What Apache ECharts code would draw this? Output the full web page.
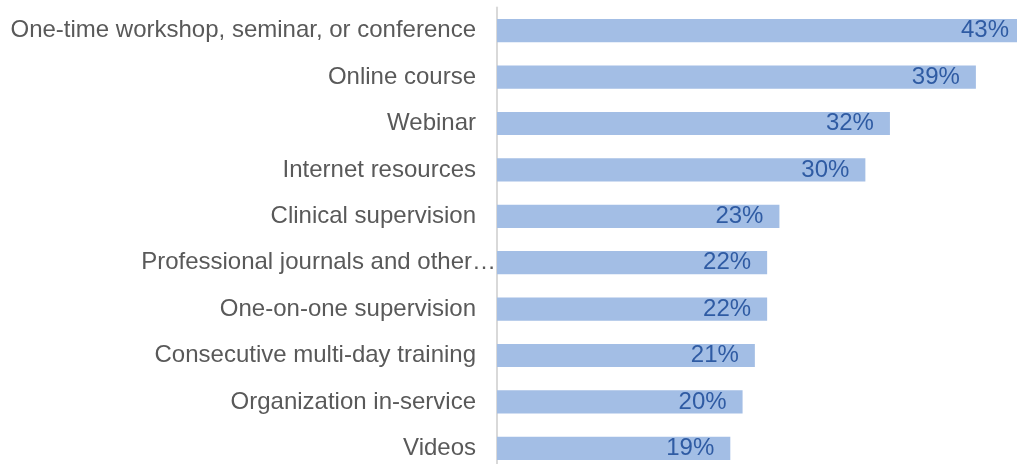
<!DOCTYPE html>
<html>
<head>
<meta charset="utf-8">
<script src="https://cdn.jsdelivr.net/npm/echarts@6/dist/echarts.min.js"></script>
<style>
html,body{margin:0;padding:0;background:#fff;}
#chart{width:1017px;height:464px;}
</style>
</head>
<body>
<div id="chart"></div>
<script>
const categories = [
  "One-time workshop, seminar, or conference",
  "Online course",
  "Webinar",
  "Internet resources",
  "Clinical supervision",
  "Professional journals and other\u2026",
  "One-on-one supervision",
  "Consecutive multi-day training",
  "Organization in-service",
  "Videos"
];
const values = [43, 39, 32, 30, 23, 22, 22, 21, 20, 19];
const truncatedIndex = 5;

const chart = echarts.init(document.getElementById('chart'));
chart.setOption({
  animation: false,
  backgroundColor: '#ffffff',
  grid: {
    left: 497, top: 7.5, width: 528, height: 464,
    containLabel: false,
    outerBoundsMode: 'none'
  },
  xAxis: {
    type: 'value', min: 0, max: 43,
    show: false,
    splitLine: {show: false}
  },
  yAxis: {
    type: 'category',
    data: categories.map((c, i) => i === truncatedIndex
      ? {value: c, textStyle: {padding: [0, -20, 0, 0]}}
      : c),
    inverse: true,
    axisTick: {show: false},
    axisLine: {show: true, lineStyle: {color: '#d9d9d9', width: 2}},
    axisLabel: {
      margin: 21,
      fontSize: 24,
      color: '#595959',
      fontFamily: 'Liberation Sans, Arial, sans-serif'
    }
  },
  series: [{
    type: 'bar',
    data: values,
    barWidth: '50%',
    clip: false,
    itemStyle: {color: '#a3bee5'},
    label: {
      show: true,
      position: 'insideRight',
      distance: 16,
      formatter: '{c}%',
      fontSize: 24,
      color: '#2f5ba3',
      fontFamily: 'Liberation Sans, Arial, sans-serif'
    }
  }]
});
</script>
</body>
</html>
